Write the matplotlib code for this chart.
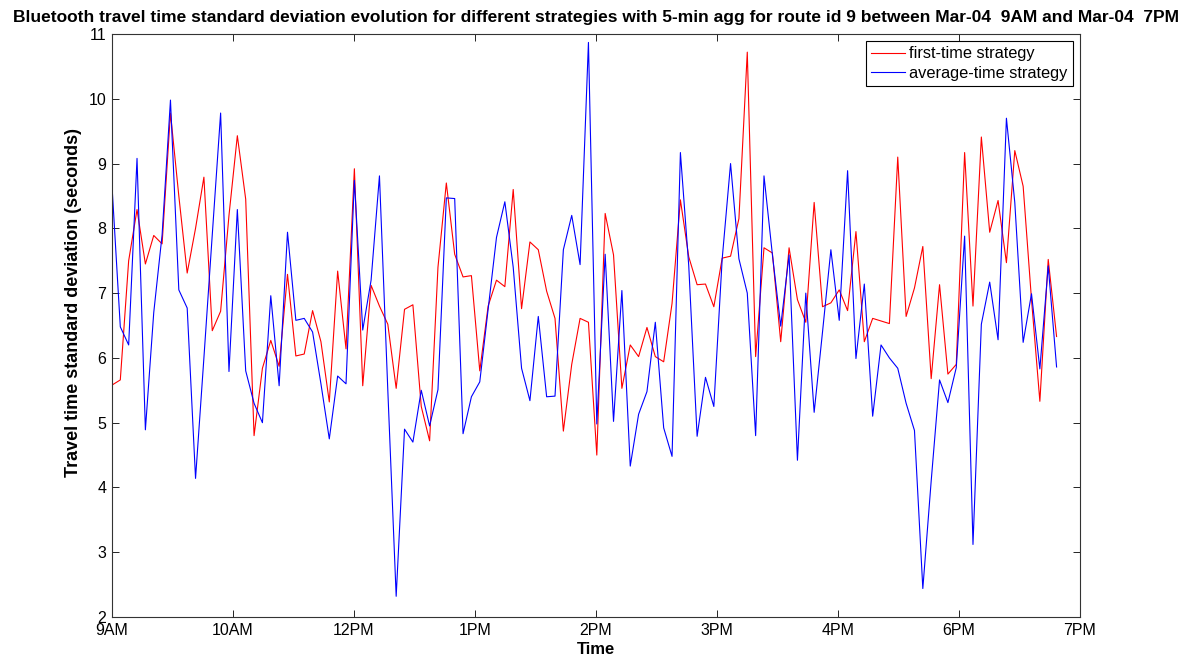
import numpy as np
import matplotlib
matplotlib.use('Agg')
import matplotlib.pyplot as plt

# std dev of travel time (s), one value per 5-min bin starting 9AM
first_time = [5.58, 5.66, 7.5, 8.29, 7.45, 7.89, 7.76, 9.78, 8.5, 7.31,
              8.0, 8.79, 6.42, 6.72, 8.2, 9.43, 8.45, 4.8, 5.84, 6.27,
              5.87, 7.29, 6.03, 6.06, 6.73, 6.25, 5.32, 7.34, 6.14, 8.92,
              5.57, 7.12, 6.8, 6.52, 5.53, 6.75, 6.82, 5.25, 4.72, 7.4,
              8.7, 7.6, 7.25, 7.27, 5.8, 6.8, 7.2, 7.1, 8.6, 6.76,
              7.79, 7.67, 7.03, 6.61, 4.87, 5.9, 6.61, 6.55, 4.5, 8.23,
              7.59, 5.53, 6.2, 6.02, 6.47, 6.02, 5.94, 6.84, 8.44, 7.56,
              7.13, 7.14, 6.79, 7.54, 7.57, 8.15, 10.72, 6.02, 7.7, 7.62,
              6.25, 7.7, 6.9, 6.55, 8.4, 6.79, 6.85, 7.05, 6.73, 7.95,
              6.25, 6.61, 6.57, 6.53, 9.1, 6.64, 7.08, 7.72, 5.68, 7.13,
              5.75, 5.9, 9.17, 6.8, 9.41, 7.94, 8.43, 7.47, 9.2, 8.65,
              6.9, 5.33, 7.52, 6.33]

average_time = [8.67, 6.48, 6.2, 9.08, 4.89, 6.7, 7.9, 9.98, 7.05, 6.77,
                4.14, 6.0, 7.9, 9.78, 5.79, 8.29, 5.8, 5.3, 5.0, 6.96,
                5.57, 7.94, 6.58, 6.61, 6.4, 5.6, 4.75, 5.72, 5.6, 8.74,
                6.43, 7.2, 8.81, 5.5, 2.32, 4.9, 4.7, 5.5, 4.95, 5.51,
                8.47, 8.46, 4.83, 5.4, 5.63, 6.75, 7.86, 8.41, 7.4, 5.84,
                5.34, 6.64, 5.4, 5.41, 7.67, 8.2, 7.44, 10.87, 4.98, 7.6,
                5.02, 7.04, 4.33, 5.13, 5.48, 6.55, 4.92, 4.48, 9.17, 7.42,
                4.79, 5.7, 5.25, 7.53, 9.0, 7.53, 7.0, 4.8, 8.81, 7.6,
                6.49, 7.59, 4.42, 7.0, 5.16, 6.4, 7.67, 6.58, 8.89, 5.99,
                7.14, 5.1, 6.2, 6.0, 5.84, 5.3, 4.88, 2.44, 4.1, 5.66,
                5.31, 5.85, 7.88, 3.12, 6.52, 7.17, 6.28, 9.7, 8.4, 6.24,
                6.99, 5.83, 7.42, 5.86]

tick_labels = ['9AM', '10AM', '12PM', '1PM', '2PM', '3PM', '4PM', '6PM', '7PM']
agg_min = 5          # aggregation window, minutes
axis_span = 579      # minutes shown on the x axis

plt.rcParams['font.family'] = ['Liberation Sans', 'DejaVu Sans']

t = np.arange(len(first_time)) * agg_min

fig = plt.figure(figsize=(11.96, 6.59), dpi=100)
ax = fig.add_axes([0.0936, 0.0637, 0.8094, 0.8847])
ax.plot(t, first_time, color='red', lw=0.8, label='first-time strategy')
ax.plot(t, average_time, color='blue', lw=0.8, label='average-time strategy')

ax.set_xlim(0, axis_span)
ax.set_ylim(2, 11)
ax.set_yticks(np.arange(2, 12))
ax.set_xticks(np.linspace(0, axis_span, len(tick_labels)))
ax.set_xticklabels(tick_labels, family=['Liberation Sans Narrow', 'Liberation Sans'],
                   fontsize=11)
ax.tick_params(direction='in', top=True, right=True, length=5, width=0.6,
               labelsize=11.5, pad=4)
for s in ax.spines.values():
    s.set_linewidth(0.8)
    s.set_color('#333333')

ax.set_title('Bluetooth travel time standard deviation evolution for different strategies '
             'with 5-min agg for route id 9 between Mar-04  9AM and Mar-04  7PM',
             fontsize=12.5, fontweight='bold', pad=9)
ax.set_xlabel('Time', fontsize=12, fontweight='bold', labelpad=3)
ax.set_ylabel('Travel time standard deviation (seconds)', fontsize=13,
              fontweight='bold')
ax.yaxis.set_label_coords(-0.031, 0.54)

leg = ax.legend(loc='upper right', fontsize=11.8, fancybox=False, framealpha=1,
                edgecolor='black', borderaxespad=0.45, handlelength=2.1,
                handletextpad=0.25, borderpad=0.3, labelspacing=0.3)
leg.get_frame().set_linewidth(0.8)

fig.savefig('out.png', dpi=100)
